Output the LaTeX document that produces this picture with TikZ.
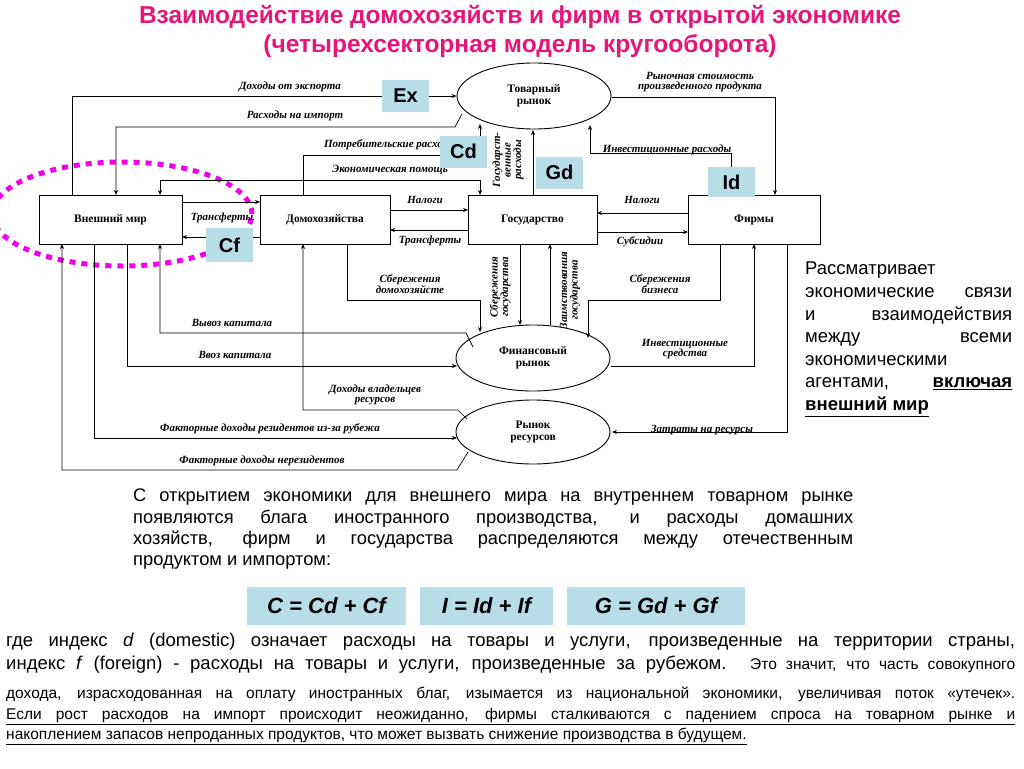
\documentclass[tikz,border=0pt]{standalone}
\usepackage{fontspec}
\setmainfont{Liberation Sans}
\newfontfamily\serif{Liberation Serif}
\usetikzlibrary{shapes.geometric,arrows.meta}
\definecolor{ttl}{HTML}{E5157A}
\definecolor{lb}{HTML}{B7DDE6}
\definecolor{mag}{HTML}{F000E8}
\begin{document}
\begin{tikzpicture}[x=1pt,y=-1pt,
 box/.style={draw,line width=0.9pt,minimum width=#1,minimum height=49pt,inner sep=0pt,font=\serif\bfseries\fontsize{11.5}{13}\selectfont},
 mkt/.style={draw,line width=0.9pt,ellipse,minimum width=154pt,minimum height=66pt,inner sep=0pt,align=center,font=\serif\bfseries\fontsize{11.5}{12}\selectfont},
 lbl/.style={inner sep=0pt,align=center,font=\serif\bfseries\itshape\fontsize{11}{10.5}\selectfont},
 tag/.style={fill=lb,inner sep=0pt,minimum width=47pt,minimum height=32pt,font=\bfseries\fontsize{20}{20}\selectfont},
 fl/.style={line width=0.7pt,-{Stealth[length=5pt,width=4pt]}},
 eq/.style={fill=lb,inner sep=0pt,minimum height=38pt,font=\bfseries\itshape\fontsize{22}{22}\selectfont}]
\useasboundingbox (0,0) rectangle (1024,768);
% title
\node[text=ttl,font=\bfseries\fontsize{24.5}{29}\selectfont,align=center] (title) at (520,31) {Взаимодействие домохозяйств и фирм в открытой экономике\\(четырехсекторная модель кругооборота)};
% nodes
\node[box=143pt] (w) at (110.5,219.5) {Внешний мир};
\node[box=130pt] (h) at (325,219.5) {Домохозяйства};
\node[box=129pt] (g) at (532.5,219.5) {Государство};
\node[box=132pt] (f) at (754,219.5) {Фирмы};
\node[mkt] (tm) at (534,96) {Товарный\\рынок};
\node[mkt] (fm) at (533,358) {Финансовый\\рынок};
\node[mkt,minimum height=64pt] (rm) at (533,432) {Рынок\\ресурсов};
% magenta ellipse
\draw[mag,line width=5pt,dash pattern=on 6pt off 6pt] (122,214) ellipse [x radius=130pt,y radius=52pt];
% export / import
\draw[fl] (72,195) |- (tm.west |- 0,96);
\node[lbl] (l1) at (290,87) {Доходы от экспорта};
\draw[fl] (462,114) -- (455,127) -| (116,195);
\node[lbl] (l2) at (295,116) {Расходы на импорт};
% consumer
\node[lbl] (l3) at (390,145) {Потребительские расходы};
\draw[fl] (303,195) |- (480,155) -- (480,124);
% econ aid
\draw[fl] (160,180) -- (480,180) -- (480,195);
\draw[fl] (160,180) -- (160,195);
\node[lbl] (l4) at (390,170) {Экономическая помощь};
% transfers W-H
\draw[fl] (182,202) -- (260,202);
\draw[fl] (260,237) -- (182,237);
\node[lbl] (l5) at (222,218) {Трансферты};
% H-G
\draw[fl] (390,210) -- (468,210);
\draw[fl] (468,230) -- (390,230);
\node[lbl] (l6) at (425,200) {Налоги};
\node[lbl] (l7) at (430,241) {Трансферты};
% G - TM
\draw[fl] (533,195) -- (533,130);
\node[lbl,rotate=90] (l8) at (508,160) {Государст-\\венные\\расходы};
% invest
\draw[fl] (731,195) -- (731,153) -- (590,153) -- (590,125);
\node[lbl] (l9) at (667,150) {Инвестиционные расходы};
\draw[fl] (612,97) -| (775,195);
\node[lbl] (l10) at (700,82) {Рыночная стоимость\\произведенного продукта};
% F-G
\draw[fl] (688,213) -- (597,213);
\draw[fl] (597,232) -- (688,232);
\node[lbl] (l11) at (642,200) {Налоги};
\node[lbl] (l12) at (640,242) {Субсидии};
% savings
\draw[fl] (347,244) |- (480,300) -- (480,332);
\node[lbl] (l13) at (410,284) {Сбережения\\домохозяйсте};
\draw[fl] (520,244) -- (520,325);
\node[lbl,rotate=90] (l14) at (500,287) {Сбережения\\государства};
\draw[fl] (550,325) -- (550,244);
\node[lbl,rotate=90] (l15) at (570,290) {Заимствования\\государства};
\draw[fl] (720,244) |- (588,300) -- (588,338);
\node[lbl] (l16) at (660,284) {Сбережения\\бизнеса};
\draw[fl] (611,366) -| (754,244);
\node[lbl] (l17) at (685,349) {Инвестиционные\\средства};
\draw[fl] (787,244) |- (612,432);
\node[lbl] (l18) at (702,430) {Затраты на ресурсы};
% capital
\draw[fl] (473,347) -- (466,333) -| (160,244);
\node[lbl] (l19) at (232,323) {Вывоз капитала};
\draw[fl] (127,244) |- (457,366);
\node[lbl] (l20) at (235,355) {Ввоз капитала};
\draw[fl] (467,419) -- (458,410) -| (303,244);
\node[lbl] (l21) at (375,395) {Доходы владельцев\\ресурсов};
\draw[fl] (94,244) |- (457,438);
\node[lbl] (l22) at (270,429) {Факторные доходы резидентов из-за рубежа};
\draw[fl] (468,452) -- (457,470) -| (62,244);
\node[lbl] (l23) at (262,461) {Факторные доходы нерезидентов};
% tags
\node[tag] (ex) at (405.5,96) {Ex};
\node[tag] (cd) at (463.5,151.5) {Cd};
\node[tag] (gd) at (559.5,172.5) {Gd};
\node[tag,minimum height=30pt] (id) at (731.5,182) {Id};
\node[tag,minimum height=34pt] (cf) at (229.5,245) {Cf};
% right text
\node[inner sep=0pt,anchor=north west,font=\fontsize{18.5}{22.6}\selectfont,align=left] (rt) at (805,262) {%
\makebox[207pt][l]{Рассматривает}\\
\makebox[207pt][s]{экономические связи}\\
\makebox[207pt][s]{и взаимодействия}\\
\makebox[207pt][s]{между всеми}\\
\makebox[207pt][l]{экономическими}\\
\makebox[207pt][s]{агентами, \textbf{\underline{включая}}}\\
\textbf{\underline{внешний мир}}};
% middle text
\node[inner sep=0pt,anchor=north west,font=\fontsize{18.3}{21.3}\selectfont,align=left] (mt) at (133,489) {%
\makebox[720pt][s]{С открытием экономики для внешнего мира на внутреннем товарном рынке}\\
\makebox[720pt][s]{появляются блага иностранного производства, и расходы домашних}\\
\makebox[720pt][s]{хозяйств, фирм и государства распределяются между отечественным}\\
продуктом и импортом:};
% equations
\node[eq,minimum width=159pt] (e1) at (326.5,606) {C = Cd + Cf};
\node[eq,minimum width=133pt] (e2) at (486.5,606) {I = Id + If};
\node[eq,minimum width=178pt] (e3) at (656,606) {G = Gd + Gf};
% bottom text
\node[inner sep=0pt,anchor=north west,font=\fontsize{18.5}{23}\selectfont,align=left] (bt) at (6,633) {%
\makebox[1009pt][s]{где индекс \textit{d} (domestic) означает расходы на товары и услуги, произведенные на территории страны,}\\
\makebox[1009pt][s]{индекс \textit{f} (foreign) - расходы на товары и услуги, произведенные за рубежом. {\fontsize{15.5}{16}\selectfont Это значит, что часть совокупного}}};
\node[inner sep=0pt,anchor=north west,font=\fontsize{15.5}{20.5}\selectfont,align=left] (bt2) at (6,687) {%
\makebox[1009pt][s]{дохода, израсходованная на оплату иностранных благ, изымается из национальной экономики, увеличивая поток «утечек».}\\
\underline{\makebox[1009pt][s]{Если рост расходов на импорт происходит неожиданно, фирмы сталкиваются с падением спроса на товарном рынке и}}\\
\underline{накоплением запасов непроданных продуктов, что может вызвать снижение производства в будущем.}};
\end{tikzpicture}
\end{document}
